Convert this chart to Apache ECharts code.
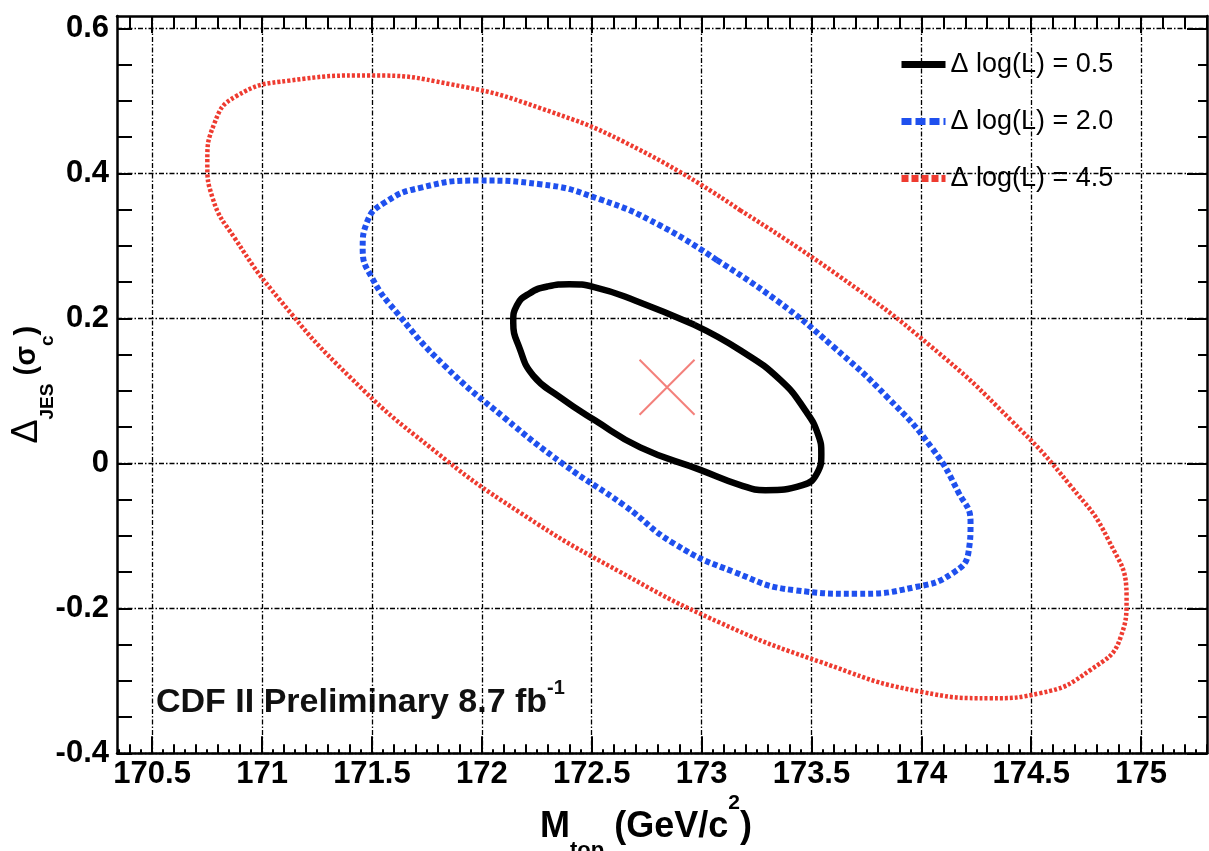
<!DOCTYPE html>
<html>
<head>
<meta charset="utf-8">
<script src="https://cdn.jsdelivr.net/npm/echarts@6/dist/echarts.min.js"></script>
<style>
  html, body { margin: 0; padding: 0; background: #fff; }
  #chart { width: 1209px; height: 851px; }
</style>
</head>
<body>
<div id="chart"></div>
<script>
// Tick labels
const massTicks = [170.5, 171, 171.5, 172, 172.5, 173, 173.5, 174, 174.5, 175];
const jesTicks = [-0.4, -0.2, 0, 0.2, 0.4, 0.6];

// Likelihood contours in the (M_top, Delta_JES) plane: [GeV/c^2, sigma_c]
const contour05 = [
  [172.967, 0.191], [173.176, 0.156], [173.358, 0.115], [173.472, 0.073], [173.531, 0.039],
  [173.545, 0.013], [173.525, -0.014], [173.460, -0.030], [173.290, -0.037], [173.176, -0.030],
  [172.994, -0.009], [172.721, 0.022], [172.511, 0.060], [172.352, 0.092], [172.234, 0.121],
  [172.173, 0.158], [172.143, 0.195], [172.160, 0.218], [172.215, 0.234], [172.300, 0.244],
  [172.398, 0.247], [172.511, 0.243], [172.694, 0.225], [172.967, 0.191]
];
const contour20 = [
  [173.071, 0.280], [173.345, 0.224], [173.595, 0.162], [173.846, 0.091], [174.051, 0.020],
  [174.169, -0.040], [174.224, -0.081], [174.215, -0.122], [174.140, -0.152], [173.969, -0.171],
  [173.705, -0.180], [173.422, -0.175], [173.149, -0.150], [172.876, -0.111], [172.648, -0.058],
  [172.375, -0.002], [172.102, 0.063], [171.829, 0.135], [171.624, 0.204], [171.500, 0.256],
  [171.458, 0.296], [171.478, 0.333], [171.560, 0.360], [171.719, 0.380], [171.983, 0.390],
  [172.265, 0.385], [172.539, 0.364], [172.812, 0.328], [173.071, 0.280]
];
const contour45 = [
  [173.176, 0.349], [173.632, 0.257], [174.041, 0.162], [174.406, 0.060], [174.679, -0.031],
  [174.852, -0.106], [174.934, -0.185], [174.907, -0.240], [174.770, -0.285], [174.542, -0.317],
  [174.315, -0.324], [173.996, -0.315], [173.541, -0.274], [173.085, -0.220], [172.630, -0.150],
  [172.174, -0.068], [171.765, 0.022], [171.400, 0.119], [171.082, 0.225], [170.877, 0.310],
  [170.775, 0.366], [170.751, 0.415], [170.782, 0.468], [170.880, 0.506], [171.127, 0.528],
  [171.491, 0.535], [171.856, 0.523], [172.265, 0.490], [172.721, 0.432], [173.176, 0.349]
];
const bestFit = [[172.843, 0.105]];

const contourNames = ['\u0394 log(L) = 0.5', '\u0394 log(L) = 2.0', '\u0394 log(L) = 4.5'];

// Axis ranges
const X_MIN = 170.34, X_MAX = 175.3;
const Y_MIN = -0.4, Y_MAX = 0.617;

// Evenly spaced tick positions inside [lo, hi]
function tickRun(lo, hi, step) {
  const out = [];
  for (let k = Math.ceil(lo / step - 1e-9); k * step <= hi + 1e-9; k++) {
    out.push(+(k * step).toFixed(4));
  }
  return out;
}
const massMinor = tickRun(X_MIN, X_MAX, 0.1);
const massTiny = tickRun(X_MIN, X_MAX, 0.05);
const jesMinor = tickRun(Y_MIN, Y_MAX, 0.05);

const FONT = 'Liberation Sans, Arial, Helvetica, sans-serif';
const frameLine = { show: true, onZero: false, lineStyle: { color: '#000', width: 2.5 } };
const noLine = { show: false, onZero: false };
const gridDash = { color: '#000', width: 1.3, type: [5, 2, 1.5, 2] };

// Helper axis carrying only a row of tick marks
function tickAxis(kind, position, values, length, withLine) {
  return {
    type: 'value', position: position,
    min: kind === 'x' ? X_MIN : Y_MIN, max: kind === 'x' ? X_MAX : Y_MAX,
    axisLine: withLine ? frameLine : noLine,
    axisLabel: { show: false },
    splitLine: { show: false },
    axisTick: { show: true, inside: true, length: length, customValues: values,
                lineStyle: { color: '#000', width: 2 } }
  };
}

const chart = echarts.init(document.getElementById('chart'), null, { renderer: 'canvas' });

const option = {
  animation: false,
  backgroundColor: '#fff',
  grid: { left: 117, right: 2, top: 16, bottom: 97.7, containLabel: false, outerBoundsMode: 'none' },
  xAxis: [
    {
      type: 'value', position: 'bottom', min: X_MIN, max: X_MAX,
      axisLine: frameLine,
      axisTick: { show: true, inside: true, length: 17, customValues: massTicks,
                  lineStyle: { color: '#000', width: 2 } },
      axisLabel: { show: true, customValues: massTicks, margin: 6, color: '#000',
                   fontFamily: FONT, fontWeight: 'bold', fontSize: 31 },
      splitLine: { show: true, lineStyle: gridDash },
      name: '{t|M}{s|top}{t| (GeV/c}{p|2}{t|)}',
      nameLocation: 'middle', nameGap: 39, nameMoveOverlap: false,
      nameTextStyle: {
        padding: [0, 32, 0, 0],
        rich: {
          t: { fontFamily: FONT, fontWeight: 'bold', fontSize: 36, color: '#000', lineHeight: 70 },
          s: { fontFamily: FONT, fontWeight: 'bold', fontSize: 22, color: '#000', lineHeight: 56, verticalAlign: 'bottom' },
          p: { fontFamily: FONT, fontWeight: 'bold', fontSize: 21, color: '#000', lineHeight: 22, verticalAlign: 'top' }
        }
      }
    },
    tickAxis('x', 'bottom', massMinor, 9, false),
    tickAxis('x', 'bottom', massTiny, 4, false),
    tickAxis('x', 'top', massMinor, 13, true),
    tickAxis('x', 'top', massTicks, 17, false)
  ],
  yAxis: [
    {
      type: 'value', position: 'left', min: Y_MIN, max: Y_MAX,
      axisLine: frameLine,
      axisTick: { show: true, inside: true, length: 15, customValues: jesTicks,
                  lineStyle: { color: '#000', width: 2 } },
      axisLabel: { show: true, customValues: jesTicks, margin: 8, color: '#000',
                   fontFamily: FONT, fontWeight: 'bold', fontSize: 31 },
      splitLine: { show: true, lineStyle: gridDash },
      name: '{d|\u0394}{s|JES}{t| (\u03c3}{c|c}{t|)}',
      nameLocation: 'middle', nameRotate: 90, nameGap: 60, nameMoveOverlap: false,
      nameTextStyle: {
        rich: {
          d: { fontFamily: FONT, fontSize: 36, color: '#000', lineHeight: 60 },
          t: { fontFamily: FONT, fontWeight: 'bold', fontSize: 29, color: '#000', lineHeight: 60 },
          s: { fontFamily: FONT, fontWeight: 'bold', fontSize: 19, color: '#000', lineHeight: 38, verticalAlign: 'bottom' },
          c: { fontFamily: FONT, fontWeight: 'bold', fontSize: 19, color: '#000', lineHeight: 38, verticalAlign: 'bottom' }
        }
      }
    },
    tickAxis('y', 'left', jesMinor, 15, false),
    tickAxis('y', 'right', jesMinor, 9, true),
    tickAxis('y', 'right', jesTicks, 20, false)
  ],
  legend: {
    orient: 'vertical', left: 893, top: 46,
    itemWidth: 44, itemHeight: 14, itemGap: 30,
    selectedMode: false,
    itemStyle: { opacity: 0, borderWidth: 0 },
    textStyle: { fontFamily: FONT, fontSize: 27, color: '#000' },
    data: [
      { name: contourNames[0], lineStyle: { width: 7, type: 'solid' } },
      { name: contourNames[1], lineStyle: { width: 7, type: [10, 4] } },
      { name: contourNames[2], lineStyle: { width: 7, type: [7, 3] } }
    ]
  },
  graphic: [
    {
      type: 'text', left: 156, top: 678, silent: true,
      style: {
        text: '{b|CDF II Preliminary 8.7 fb}{u|-1}',
        rich: {
          b: { fontFamily: FONT, fontWeight: 'bold', fontSize: 34, fill: '#111', lineHeight: 50 },
          u: { fontFamily: FONT, fontWeight: 'bold', fontSize: 20, fill: '#111', lineHeight: 20, verticalAlign: 'top' }
        }
      }
    }
  ],
  series: [
    {
      name: contourNames[2], type: 'line', data: contour45, smooth: 0.5,
      symbol: 'none', silent: true, z: 3,
      itemStyle: { color: '#ee3b30' },
      lineStyle: { color: '#ee3b30', width: 4.5, type: [3, 2] }
    },
    {
      name: contourNames[1], type: 'line', data: contour20, smooth: 0.5,
      symbol: 'none', silent: true, z: 4,
      itemStyle: { color: '#1f50ee' },
      lineStyle: { color: '#1f50ee', width: 6, type: [5, 3] }
    },
    {
      name: contourNames[0], type: 'line', data: contour05, smooth: 0.5,
      symbol: 'none', silent: true, z: 5,
      itemStyle: { color: '#000' },
      lineStyle: { color: '#000', width: 6.5, type: 'solid' }
    },
    {
      name: 'best fit', type: 'scatter', data: bestFit, silent: true, z: 6,
      symbol: 'path://M0,0L10,10M10,0L0,10', symbolSize: 55,
      itemStyle: { color: 'rgba(0,0,0,0)', borderColor: '#f0605a', borderWidth: 2 }
    }
  ]
};

chart.setOption(option);
</script>
</body>
</html>
